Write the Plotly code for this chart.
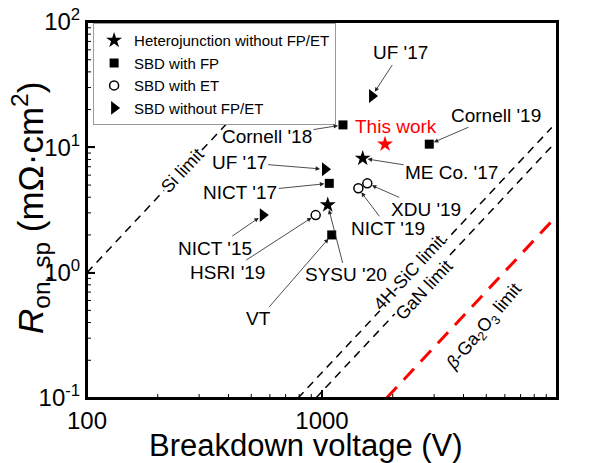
import numpy as np
import plotly.graph_objects as go

# ---------------- data ----------------
hj_labels = ["SYSU '20", "ME Co. '17"]
hj_V = [1058, 1490]
hj_R = [3.47, 8.17]

fp_labels = ["Cornell '18", "NICT '17", "VT", "Cornell '19"]
fp_V = [1228, 1074, 1100, 2861]
fp_R = [15.1, 5.16, 2.0, 10.6]

et_labels = ["NICT '19", "XDU '19", "HSRI '19"]
et_V = [1428, 1559, 940]
et_R = [4.71, 5.16, 2.88]

no_labels = ["UF '17", "UF '17", "NICT '15"]
no_V = [1633, 1030, 560]
no_R = [25.7, 6.68, 2.88]

tw_V = [1854]
tw_R = [10.6]

si_V = [100, 1000]
si_R = [1.0, 100.0]
sic_V = [791, 9500]
sic_R = [0.1, 14.4]
gan_V = [942, 9500]
gan_R = [0.1, 10.2]
ga2o3_V = [1884, 10000]
ga2o3_R = [0.1, 2.85]

x_tickvals = [100, 1000, 10000]
x_ticktext = ["100", "1000", "10000"]
x_minorvals = [200, 300, 400, 500, 600, 700, 800, 900,
               2000, 3000, 4000, 5000, 6000, 7000, 8000, 9000]
y_tickvals = [0.1, 1, 10, 100]
y_ticktext = ["10<sup>-1</sup>", "10<sup>0</sup>", "10<sup>1</sup>", "10<sup>2</sup>"]
y_minorvals = [0.2, 0.3, 0.4, 0.5, 0.6, 0.7, 0.8, 0.9,
               2, 3, 4, 5, 6, 7, 8, 9, 20, 30, 40, 50, 60, 70, 80, 90]

FONT = "Liberation Sans, Arial, sans-serif"
XR = [2, 4]
YR = [-1, 2]
fig = go.Figure()

dash_black = dict(color="black", width=1.5, dash="8px,6px")
for V, R in [(si_V, si_R), (sic_V, sic_R), (gan_V, gan_R)]:
    fig.add_trace(go.Scatter(x=V, y=R, mode="lines", line=dash_black,
                             showlegend=False, hoverinfo="skip"))
fig.add_trace(go.Scatter(x=ga2o3_V, y=ga2o3_R, mode="lines",
                         line=dict(color="red", width=3, dash="15px,10px"),
                         showlegend=False, hoverinfo="skip"))
fig.add_trace(go.Scatter(x=hj_V, y=hj_R, mode="markers", name="Heterojunction without FP/ET",
                         marker=dict(symbol="star", size=12, color="black")))
fig.add_trace(go.Scatter(x=fp_V, y=fp_R, mode="markers", name="SBD with FP",
                         marker=dict(symbol="square", size=9, color="black")))
fig.add_trace(go.Scatter(x=et_V, y=et_R, mode="markers", name="SBD with ET",
                         marker=dict(symbol="circle-open", size=9, color="black",
                                     line=dict(width=1.5))))
fig.add_trace(go.Scatter(x=no_V, y=no_R, mode="markers", name="SBD without FP/ET",
                         marker=dict(symbol="triangle-right", size=12, color="black")))
fig.add_trace(go.Scatter(x=tw_V, y=tw_R, mode="markers", showlegend=False,
                         marker=dict(symbol="star", size=12, color="red")))

label_offsets = [
    ("hj", 0, 18, 70),
    ("hj", 1, 89, 14),
    ("fp", 0, -76, 12),
    ("fp", 1, -89, 9),
    ("fp", 2, -73, 84),
    ("fp", 3, 67, -29),
    ("et", 0, 30, 40),
    ("et", 1, 59, 26),
    ("et", 2, -88, 57),
    ("no", 0, 28, -43),
    ("no", 1, -86, -7),
    ("no", 2, -48, 33),
]
series = {"hj": (hj_V, hj_R, hj_labels), "fp": (fp_V, fp_R, fp_labels),
          "et": (et_V, et_R, et_labels), "no": (no_V, no_R, no_labels)}

annotations = []
for key, i, ax, ay in label_offsets:
    V, R, L = series[key]
    annotations.append(dict(
        x=np.log10(V[i]), y=np.log10(R[i]), xref="x", yref="y",
        text=L[i], showarrow=True, ax=ax, ay=ay,
        arrowhead=2, arrowsize=1.1, arrowwidth=0.8, arrowcolor="#222",
        standoff=5, font=dict(size=19, color="black", family=FONT)))

annotations.append(dict(x=np.log10(tw_V[0]), y=np.log10(tw_R[0]), xref="x", yref="y",
                        text="This work", showarrow=False, xshift=11, yshift=18,
                        xanchor="center", yanchor="middle",
                        font=dict(size=19, color="red", family=FONT)))

def pa(px, py, text, size, angle=0, bg=None):
    d = dict(x=(px - 87) / 470, y=(398 - py) / 376, xref="paper", yref="paper",
             text=text, textangle=angle, showarrow=False,
             xanchor="center", yanchor="middle",
             font=dict(size=size, color="black", family=FONT))
    if bg:
        d.update(bgcolor=bg, borderpad=0)
    return d

annotations += [
    pa(182, 171, "Si limit", 18, -47, "white"),
    pa(424, 290, "GaN limit", 18, -47, "white"),
    pa(409, 273, "4H-SiC limit", 18, -47, "white"),
    pa(484, 327, "<i>β</i>-Ga<sub>2</sub>O<sub>3</sub> limit", 18, -50),
    pa(306, 445, "Breakdown voltage (V)", 31),
    pa(30, 208, "<i>R</i><sub>on, sp</sub> (mΩ·cm<sup>2</sup>)", 35, -90),
]

# frame and tick marks drawn as shapes (positions from the tick value lists)
def xfrac(v):
    return (np.log10(v) - XR[0]) / (XR[1] - XR[0])

def yfrac(v):
    return (np.log10(v) - YR[0]) / (YR[1] - YR[0])

shapes = [dict(type="rect", xref="paper", yref="paper", x0=0, x1=1, y0=0, y1=1,
               line=dict(color="black", width=2), layer="above")]
for vals, ln, w in [(x_tickvals[1:-1], 8, 1.5), (x_minorvals, 4, 1)]:
    for v in vals:
        shapes.append(dict(type="line", xref="x domain", yref="y domain",
                           ysizemode="pixel", yanchor=0, x0=xfrac(v), x1=xfrac(v),
                           y0=0, y1=ln, line=dict(color="black", width=w)))
for vals, ln, w in [(y_tickvals[1:-1], 8, 1.5), (y_minorvals, 4, 1)]:
    for v in vals:
        shapes.append(dict(type="line", xref="x domain", yref="y domain",
                           xsizemode="pixel", xanchor=0, y0=yfrac(v), y1=yfrac(v),
                           x0=0, x1=ln, line=dict(color="black", width=w)))

tickfont = dict(size=24, color="black", family=FONT)
fig.update_layout(
    template="none",
    width=590, height=463, autosize=False,
    margin=dict(l=87, r=33, t=22, b=65, autoexpand=False),
    paper_bgcolor="white", plot_bgcolor="white",
    font=dict(family=FONT, color="black"),
    xaxis=dict(type="log", range=XR, tickmode="array", tickvals=x_tickvals,
               ticktext=x_ticktext, showgrid=False, zeroline=False,
               showline=True, linecolor="black", linewidth=2, mirror=True,
               ticks="inside", ticklen=8, tickwidth=1.5, tickcolor="black",
               tickfont=tickfont, automargin=False),
    yaxis=dict(type="log", range=YR, tickmode="array", tickvals=y_tickvals,
               ticktext=y_ticktext, showgrid=False, zeroline=False,
               showline=True, linecolor="black", linewidth=2, mirror=True,
               ticks="inside", ticklen=8, tickwidth=1.5, tickcolor="black",
               tickfont=tickfont, automargin=False),
    legend=dict(x=0.013, y=0.997, xanchor="left", yanchor="top",
                bgcolor="white", bordercolor="#999", borderwidth=1,
                font=dict(size=15, color="black", family=FONT)),
    annotations=annotations,
    shapes=shapes,
    showlegend=True,
)

post = "document.body.style.margin='0';"
fig.write_html("out.html", post_script=post, config={"displayModeBar": False})
